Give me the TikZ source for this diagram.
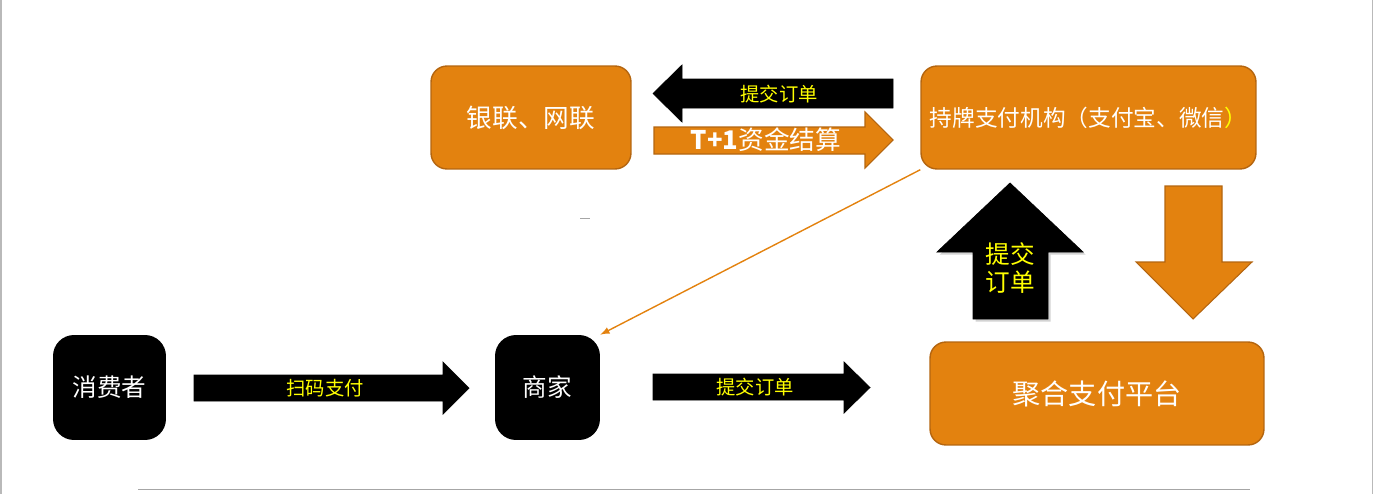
\documentclass[tikz,border=0pt]{standalone}
\usepackage{fontspec}
\newfontfamily\cjk{Noto Sans CJK SC}
\usepackage{tikz}
\usetikzlibrary{arrows}
\usetikzlibrary{calc}
\usetikzlibrary{positioning}
\usetikzlibrary{shadows}

\definecolor{boxfill}{HTML}{E3820F}
\definecolor{boxedge}{HTML}{B4650F}
\definecolor{tagyellow}{HTML}{FFFF00}

\begin{document}
\begin{tikzpicture}
	 [> = latex,
	x=0.02cm, y=-0.02cm, every node/.style={scale=1},
	obox/.style = {draw=boxedge, fill=boxfill, line width=0.8pt, rounded corners=0.32cm, text=white, inner sep=0pt},
	kbox/.style = {fill=black, rounded corners=0.42cm, text=white, inner sep=0pt},
	oarrow/.style = {draw=boxedge, fill=boxfill, line width=0.6pt},
	karrow/.style = {fill=black},
	tagtext/.style = {text=tagyellow, inner sep=0pt},
	bigfont/.style = {font=\cjk\fontsize{14.6}{17}\selectfont},
	tagfont/.style = {font=\cjk\fontsize{11}{13}\selectfont}
	]
	\useasboundingbox (0,0) rectangle (1376,494);

	% frame
	\draw[gray!55, line width=0.8pt] (1,0) -- (1,494);
	\draw[gray!55, line width=0.8pt] (1372.5,0) -- (1372.5,494);
	\draw[gray!70, line width=0.6pt] (138,489.5) -- (1250,489.5);
	\draw[gray!70, line width=0.5pt] (580,218) -- (590,218);

	% boxes
	\node[obox, bigfont, minimum width=4cm, minimum height=2.06cm] (union) at (531,117.5) {银联、网联};
	\node[obox, font=\cjk\fontsize{12.9}{15}\selectfont, minimum width=6.7cm, minimum height=2.06cm] (licensed) at (1088.5,117.5) {持牌支付机构（支付宝、微信{\color{tagyellow}）}};
	\node[obox, font=\cjk\fontsize{16}{19}\selectfont, minimum width=6.68cm, minimum height=2.06cm] (aggregator) at (1097,393.5) {聚合支付平台};
	\node[kbox, font=\cjk\fontsize{14}{17}\selectfont, minimum width=2.26cm, minimum height=2.1cm] (consumer) at (109.5,387.5) {消费者};
	\node[kbox, font=\cjk\fontsize{14}{17}\selectfont, minimum width=2.1cm, minimum height=2.1cm] (merchant) at (547.5,387.5) {商家};

	% block arrows
	\draw[karrow] (893,79) -- (682,79) -- (682,65) -- (653,93.5) -- (682,122) -- (682,108) -- (893,108) -- cycle;
	\node[tagtext, tagfont] (orderTop) at (779,94) {提交订单};

	\draw[oarrow] (654,127) -- (865,127) -- (865,112) -- (893,140) -- (865,168) -- (865,154) -- (654,154) -- cycle;
	\node[text=white, inner sep=0pt, bigfont] (settle) at (766,140) {\textbf{T+1}资金结算};

	\draw[karrow] (194,375) -- (443,375) -- (443,362) -- (469,388) -- (443,414) -- (443,401) -- (194,401) -- cycle;
	\node[tagtext, tagfont] (scan) at (325,388) {扫码支付};

	\draw[karrow] (653,374) -- (844,374) -- (844,362) -- (870,387.5) -- (844,413) -- (844,400) -- (653,400) -- cycle;
	\node[tagtext, tagfont] (orderLow) at (755,387) {提交订单};

	\draw[karrow, drop shadow={shadow xshift=1.5pt, shadow yshift=-1.5pt, opacity=0.35}] (973,319) -- (973,252) -- (937,252) -- (1010,183) -- (1083,252) -- (1048,252) -- (1048,319) -- cycle;
	\node[tagtext, font=\cjk\fontsize{14}{16}\selectfont, align=center] (orderUp) at (1010,268) {提交\\订单};

	\draw[oarrow] (1165,186) -- (1222,186) -- (1222,262) -- (1252,262) -- (1193,319) -- (1136,262) -- (1165,262) -- cycle;

	% thin connector
	\draw[->, boxfill, line width=0.8pt] (licensed.south west) -- (merchant.north east);
\end{tikzpicture}
\end{document}
